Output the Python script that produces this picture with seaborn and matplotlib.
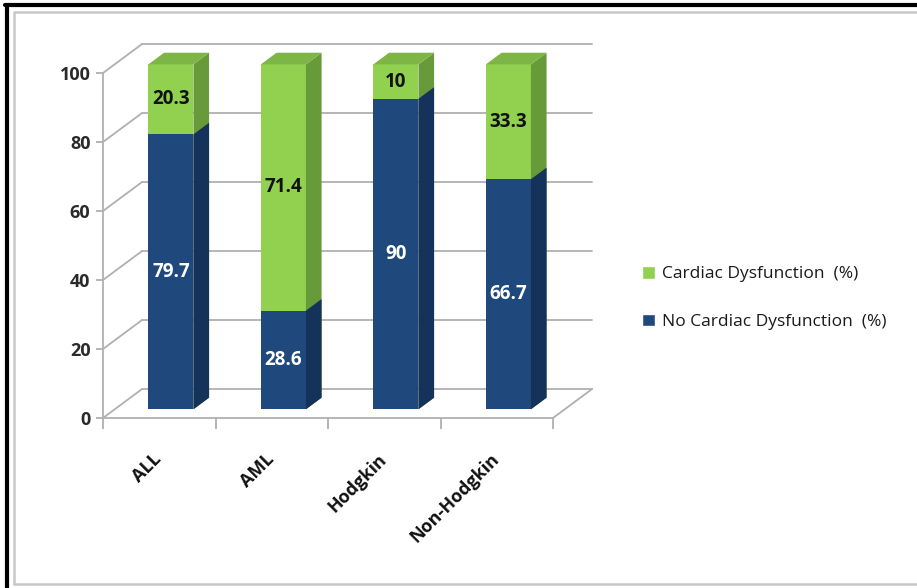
import numpy as np
import pandas as pd
import matplotlib
matplotlib.use("Agg")
import matplotlib.pyplot as plt
import matplotlib.transforms as mtransforms
from matplotlib.patches import Polygon, Patch
from matplotlib.lines import Line2D
import seaborn as sns

# -------------------- data --------------------
categories = ["ALL", "AML", "Hodgkin", "Non-Hodgkin"]
no_dysfunction = [79.7, 28.6, 90, 66.7]
dysfunction = [20.3, 71.4, 10, 33.3]
y_ticks = [0, 20, 40, 60, 80, 100]

# -------------------- style --------------------
BLUE, BLUE_SIDE = "#1F497D", "#15325A"
GREEN, GREEN_SIDE, GREEN_TOP = "#92D050", "#679A38", "#7DB546"
GRID = "#B0B0B0"

# fake 3D box depth (data units) and where the bars sit inside it
DX, DY = 0.347, 8.4
F0, F1 = 0.3, 0.7

sns.set_theme(style="white")
plt.rcParams["font.family"] = ["Open Sans", "DejaVu Sans"]


def main():
    df = pd.DataFrame({"category": categories,
                       "no": no_dysfunction,
                       "yes": dysfunction})
    df["total"] = df["no"] + df["yes"]
    n = len(df)

    fig = plt.figure(figsize=(9.17, 5.88), dpi=100)
    ax = fig.add_axes([103 / 917, 170 / 588, 4.4 * 112.5 / 917, 112 * 3.45 / 588])

    # stacked bars: full height in green, blue part drawn over it
    sns.barplot(data=df, x="category", y="total", color=GREEN, saturation=1,
                width=0.4, errorbar=None, linewidth=0, ax=ax)
    sns.barplot(data=df, x="category", y="no", color=BLUE, saturation=1,
                width=0.4, errorbar=None, linewidth=0, ax=ax)

    shift = mtransforms.Affine2D().translate(F0 * DX, F0 * DY) + ax.transData
    bx, by = (F1 - F0) * DX, (F1 - F0) * DY

    green_bars = ax.patches[:n]
    blue_bars = ax.patches[n:2 * n]
    for bars, side_c, top_c, z in [(green_bars, GREEN_SIDE, GREEN_TOP, 3),
                                   (blue_bars, BLUE_SIDE, None, 4)]:
        for p in bars:
            p.set_transform(shift)
            p.set_zorder(z)
            x, y, w, h = p.get_x(), p.get_y(), p.get_width(), p.get_height()
            side = Polygon([(x + w, y), (x + w + bx, y + by),
                            (x + w + bx, y + h + by), (x + w, y + h)],
                           closed=True, facecolor=side_c, lw=0,
                           transform=shift, zorder=z)
            ax.add_patch(side)
            if top_c:
                top = Polygon([(x, y + h), (x + w, y + h),
                               (x + w + bx, y + h + by), (x + bx, y + h + by)],
                              closed=True, facecolor=top_c, lw=0,
                              transform=shift, zorder=z)
                ax.add_patch(top)

    # value labels on the front faces
    for i, p in enumerate(blue_bars):
        cx = p.get_x() + p.get_width() / 2
        nv, yv = df["no"][i], df["yes"][i]
        ax.text(cx, nv / 2, f"{nv:g}", transform=shift, ha="center", va="center",
                color="white", fontsize=13.5, fontweight="bold", zorder=6)
        ax.text(cx, nv + yv / 2, f"{yv:g}", transform=shift, ha="center",
                va="center", color="#111111", fontsize=13.5, fontweight="bold",
                zorder=6)

    # walls / floor of the 3D frame
    x0, x1 = -0.5, n - 0.5
    for v in y_ticks:
        ax.plot([x0 + DX, x1 + DX], [v + DY, v + DY], color=GRID, lw=1.3,
                zorder=1, clip_on=False)
        ax.plot([x0, x0 + DX], [v, v + DY], color=GRID, lw=1.3, zorder=1,
                clip_on=False)
    ax.plot([x1, x1 + DX], [0, DY], color=GRID, lw=1.3, zorder=1, clip_on=False)

    ax.set_xlim(x0, x1 + 0.4)
    ax.set_ylim(0, 112)
    for s in ["top", "right"]:
        ax.spines[s].set_visible(False)
    ax.spines["left"].set_bounds(0, 100)
    ax.spines["bottom"].set_bounds(x0, x1)
    for s in ["left", "bottom"]:
        ax.spines[s].set_color(GRID)
        ax.spines[s].set_linewidth(1.3)

    ax.set_yticks(y_ticks, [str(v) for v in y_ticks], fontsize=13,
                  fontweight="bold", color="#2A2A2A")
    ax.tick_params(axis="y", left=True, direction="out", length=5, width=1.3,
                   color=GRID, pad=4)
    ax.set_xticks(np.arange(n + 1) - 0.5, [""] * (n + 1))
    ax.set_xticks(np.arange(n) - 0.06, categories, minor=True, rotation=45,
                  ha="right", rotation_mode="anchor", fontsize=13,
                  fontweight="bold", color="#111111")
    ax.tick_params(axis="x", which="major", bottom=True, direction="out",
                   length=8, width=1.3, color=GRID)
    ax.tick_params(axis="x", which="minor", bottom=True, length=0, pad=23)
    ax.set_xlabel("")
    ax.set_ylabel("")

    handles = [Patch(facecolor=GREEN, label="Cardiac Dysfunction  (%)"),
               Patch(facecolor=BLUE, label="No Cardiac Dysfunction  (%)")]
    fig.legend(handles=handles, loc="center left",
               bbox_to_anchor=(633 / 917, 1 - 298 / 588), frameon=False,
               fontsize=12.5, handlelength=0.75, handleheight=0.75,
               handletextpad=0.4, labelspacing=1.8, borderpad=0,
               labelcolor="#1A1A1A")

    # picture frame
    fig.add_artist(Line2D([7 / 917, 7 / 917], [0, 1 - 5 / 588], color="black",
                          lw=3, transform=fig.transFigure))
    fig.add_artist(Line2D([5 / 917, 1], [1 - 5 / 588, 1 - 5 / 588],
                          color="black", lw=3, transform=fig.transFigure))
    fig.add_artist(Line2D([14 / 917, 14 / 917, 1], [4 / 588, 1 - 12 / 588, 1 - 12 / 588],
                          color="#C8C8C8", lw=1.8, transform=fig.transFigure))
    fig.add_artist(Line2D([14 / 917, 1], [4 / 588, 4 / 588],
                          color="#C8C8C8", lw=1.8, transform=fig.transFigure))

    fig.savefig("out.png", dpi=100, facecolor="white")
    plt.close(fig)


if __name__ == "__main__":
    main()
